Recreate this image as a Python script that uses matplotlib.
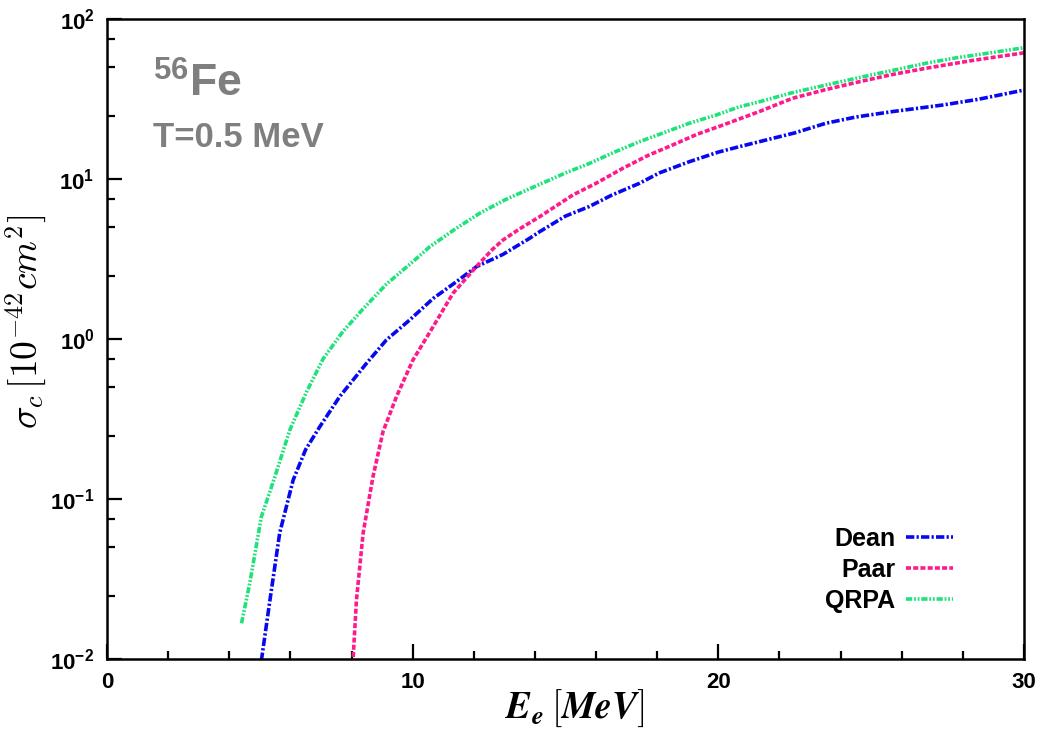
import math
import matplotlib
matplotlib.use("Agg")
import matplotlib.pyplot as plt
from matplotlib.ticker import FixedLocator, LogLocator, FuncFormatter, NullFormatter

plt.rcParams['font.family'] = ['Liberation Sans', 'DejaVu Sans']
plt.rcParams['font.weight'] = 'bold'
plt.rcParams['mathtext.fontset'] = 'custom'
plt.rcParams['mathtext.rm'] = 'Liberation Sans:bold'
plt.rcParams['mathtext.bf'] = 'Liberation Sans:bold'
plt.rcParams['mathtext.it'] = 'Liberation Sans:bold:italic'
plt.rcParams['lines.scale_dashes'] = False

# ---- data ----
dean_E = [4.98, 5.33, 5.65, 6.09, 6.5, 6.96, 7.61, 8.49, 9.14, 9.90, 10.67, 11.43,
          12.08, 12.95, 13.82, 14.15, 15.0, 15.78, 16.5, 17.42, 18.07, 19.05, 20.0,
          20.69, 21.34, 22.5, 23.52, 24.5, 25.7, 27.33, 28.5, 30.0]
dean_sigma = [0.0079, 0.0234, 0.0617, 0.132, 0.205, 0.284, 0.438, 0.708, 0.991, 1.32,
              1.80, 2.29, 2.84, 3.39, 4.27, 4.70, 5.89, 6.76, 7.94, 9.44, 10.96, 12.88,
              14.79, 16.0, 17.18, 19.5, 22.4, 24.5, 26.5, 29.1, 31.6, 36.1]

paar_E = [8.00, 8.05, 8.16, 8.38, 8.70, 9.03, 9.47, 10.01, 10.67, 11.32, 12.08, 12.6,
          12.95, 13.5, 14.15, 15.24, 16.0, 16.87, 17.7, 18.51, 19.3, 20.14, 21.34,
          22.43, 23.5, 24.61, 25.7, 26.79, 27.6, 28.42, 30.0]
paar_sigma = [0.0050, 0.0100, 0.0234, 0.0617, 0.138, 0.265, 0.438, 0.743, 1.20, 1.94,
              2.84, 3.63, 4.17, 4.90, 5.83, 7.98, 9.44, 11.7, 14.1, 16.4, 19.1, 21.8,
              26.5, 32.1, 36.3, 40.7, 45.2, 49.4, 52.5, 55.7, 61.7]

qrpa_E = [4.40, 4.67, 5.05, 5.49, 5.98, 6.53, 7.07, 7.72, 8.38, 9.14, 10.0, 10.56,
          11.4, 12.19, 13.0, 13.82, 15.0, 15.78, 16.6, 17.42, 18.2, 19.05, 19.9, 20.69,
          21.34, 22.4, 23.52, 24.6, 25.7, 26.79, 27.8, 28.9, 30.0]
qrpa_sigma = [0.0168, 0.0299, 0.0778, 0.138, 0.271, 0.470, 0.755, 1.12, 1.55, 2.21,
              3.05, 3.79, 4.90, 6.13, 7.41, 8.71, 10.96, 12.56, 14.79, 17.18, 19.5,
              22.4, 25.1, 28.4, 30.5, 34.7, 38.8, 43.2, 47.9, 53.1, 57.5, 61.7, 66.4]

series_labels = ["Dean", "Paar", "QRPA"]
x_major = [0, 10, 20, 30]
x_minor = [2, 4, 6, 8, 12, 14, 16, 18, 22, 24, 26, 28]
y_major = [1e-2, 1e-1, 1e0, 1e1, 1e2]

# ---- figure ----
fig = plt.figure(figsize=(10.45, 7.33), dpi=100)
ax = fig.add_axes([0.1024, 0.1005, 0.8775, 0.8732])

lw = 2.6
ax.plot(dean_E, dean_sigma, color='#0808f0', lw=lw,
        linestyle=(0, (6.0, 1.6, 1.6, 1.6)), label=series_labels[0])
ax.plot(paar_E, paar_sigma, color='#ff1a8c', lw=lw,
        linestyle=(0, (3.6, 1.6)), label=series_labels[1])
ax.plot(qrpa_E, qrpa_sigma, color='#1ee27a', lw=lw,
        linestyle=(0, (4.5, 1.3, 1.3, 1.3, 1.3, 1.3)), label=series_labels[2])

ax.set_yscale('log')
ax.set_xlim(0, 30)
ax.set_ylim(1e-2, 1e2)

ax.xaxis.set_major_locator(FixedLocator(x_major))
ax.xaxis.set_minor_locator(FixedLocator(x_minor))
ax.yaxis.set_major_locator(FixedLocator(y_major))
ax.yaxis.set_minor_locator(LogLocator(base=10, subs=[2.5, 5.0, 7.5]))
ax.yaxis.set_minor_formatter(NullFormatter())
ax.xaxis.set_major_formatter(FuncFormatter(lambda v, p: "%d" % v))
ax.yaxis.set_major_formatter(FuncFormatter(
    lambda v, p: r"$\mathrm{10^{%d}}$" % int(round(math.log10(v)))))

ax.tick_params(which='both', direction='in', top=False, right=False,
               width=1.6, labelsize=16, colors='black')
ax.tick_params(which='major', length=11, pad=9)
ax.tick_params(which='minor', length=5.5)
for lab in ax.get_xticklabels() + ax.get_yticklabels():
    lab.set_fontweight('bold')
for s in ax.spines.values():
    s.set_linewidth(1.8)

ax.set_xlabel(r"$\mathbfit{E}_{\mathbfit{e}}\,\mathbf{[}\mathbfit{MeV}\mathbf{]}$",
              fontsize=27, math_fontfamily='cm')
ax.xaxis.set_label_coords(0.510, -0.045)
ax.set_ylabel(r"$\sigma_c\,[10^{-42}cm^2]$", fontsize=27, math_fontfamily='cm')
ax.yaxis.set_label_coords(-0.064, 0.528)

ax.text(0.0502, 0.8786, r"$\mathrm{^{56}Fe}$", transform=ax.transAxes, fontsize=32,
        color='#7f7f7f', fontweight='bold', va='baseline', ha='left')
ax.text(0.0502, 0.800, "T=0.5 MeV", transform=ax.transAxes, fontsize=25,
        color='#7f7f7f', fontweight='bold', va='baseline', ha='left')

leg = ax.legend(loc='upper right', bbox_to_anchor=(953 / 1045, 1 - 527 / 733),
                bbox_transform=fig.transFigure, frameon=False, markerfirst=False,
                prop={'weight': 'bold', 'size': 18}, handlelength=1.9,
                handletextpad=0.4, labelspacing=0.28, borderpad=0, borderaxespad=0)

fig.savefig("out.png", dpi=100)
